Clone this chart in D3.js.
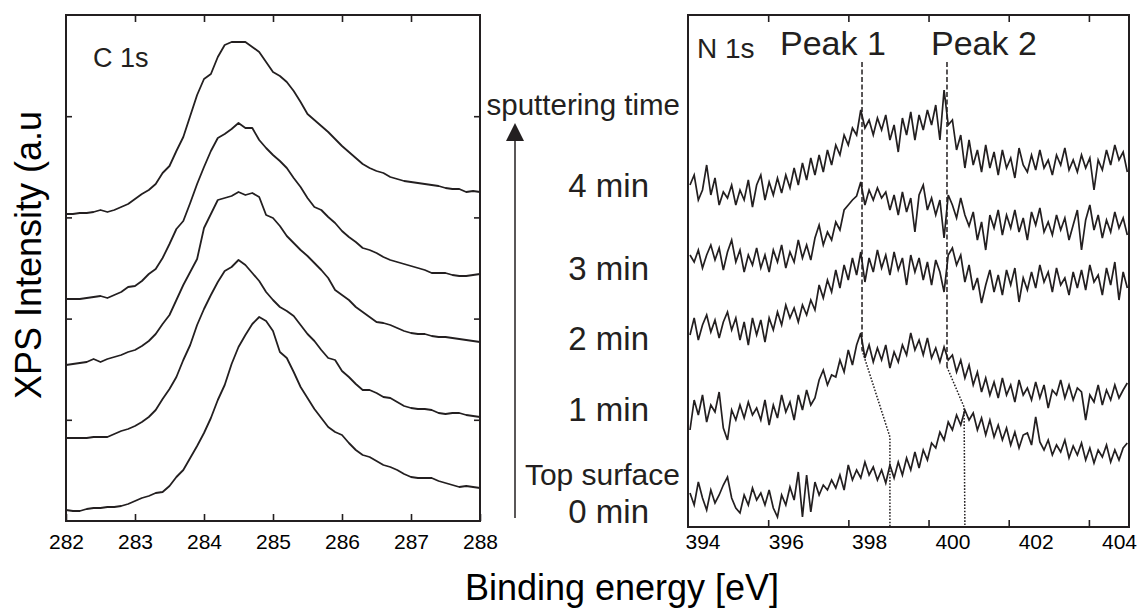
<!DOCTYPE html>
<html><head><meta charset="utf-8">
<script src="https://cdn.jsdelivr.net/npm/d3@7"></script>
<style>body{margin:0;background:#fff;} svg{display:block;font-family:"Liberation Sans",Arial,Helvetica,sans-serif;}</style>
</head><body><svg id="chart" width="1145" height="610"></svg>
<script>
// ---------- DATA ----------
const c1sTicks = [282, 283, 284, 285, 286, 287, 288];
const n1sTicks = [394, 396, 398, 400, 402, 404];
const n1sTickMarks = [396, 398, 400, 402, 404];
const sputterLabels = ["0 min", "1 min", "2 min", "3 min", "4 min"];
const c1sEnergy = d3.range(61).map(i => +(282 + i * 0.1).toFixed(1));
const n1sEnergy = d3.range(106).map(i => +(393.7 + i * 0.1).toFixed(1));

// C 1s stacked spectra (arbitrary units, offset included)
const c1s_4min = [307,307,308,308,309,311,309,311,314,317,322,327,331,337,348,355,370,384,405,426,442,447,464,476,479,479,479,474,469,459,449,445,439,430,419,407,401,395,389,382,375,369,363,357,353,350,348,344,342,340,339,338,337,336,335,333,332,332,329,330,329];
const c1s_3min = [222,222,222,223,224,225,223,226,229,234,235,240,247,252,263,277,292,300,318,337,354,370,383,387,392,398,393,393,381,373,366,360,353,343,334,323,314,311,304,298,290,284,279,273,271,268,264,261,259,257,255,253,251,248,248,248,246,245,245,246,247];
const c1s_2min = [156,157,158,159,162,159,162,164,166,169,171,175,180,187,197,206,221,236,249,262,293,307,321,323,325,329,326,328,324,306,303,295,285,278,271,265,258,251,243,231,226,221,214,209,204,199,198,196,193,190,188,187,187,185,184,184,183,182,181,180,179];
const c1s_1min = [83,83,83,83,84,84,84,87,90,92,95,99,104,111,122,132,144,161,176,196,212,226,239,250,254,261,256,248,240,229,221,214,210,205,196,187,180,171,163,161,150,144,137,131,131,128,124,123,119,115,113,112,112,111,108,107,108,108,106,105,104];
const c1s_0min = [11,10,10,12,13,13,14,14,15,17,20,23,25,28,29,35,44,51,63,75,88,103,121,136,157,174,186,197,204,200,190,169,163,149,134,123,112,103,94,89,86,78,71,66,64,60,56,54,51,47,44,43,43,43,40,38,36,34,35,34,33];

// N 1s stacked spectra (arbitrary units, offset included)
const n1s_4min = [342,352,327,337,362,332,349,322,335,329,342,322,337,327,347,320,342,352,327,345,332,349,334,352,339,359,342,364,347,369,352,372,355,377,362,382,372,392,382,399,392,417,399,407,392,409,397,412,387,402,375,409,392,415,387,412,397,417,402,422,387,437,402,407,377,392,359,387,362,377,355,382,359,375,352,377,359,369,349,379,362,355,372,357,377,359,367,352,372,362,379,357,367,355,372,359,369,337,367,357,377,362,382,367,375,355];
const n1s_3min = [272,265,277,259,272,282,267,279,257,275,287,265,277,255,272,262,279,259,272,255,277,265,282,259,275,265,287,269,282,267,289,302,282,295,287,305,297,317,322,327,331,345,322,337,327,339,329,335,317,332,312,335,315,329,295,332,342,317,329,312,327,289,332,322,309,329,312,301,315,287,305,277,312,299,317,292,312,299,317,295,309,287,315,302,319,295,305,292,312,297,309,287,302,317,277,307,322,297,312,289,307,295,315,299,309,292];
const n1s_2min = [192,209,187,202,212,195,207,189,205,215,197,209,187,205,182,209,192,207,185,209,197,215,202,222,209,219,205,222,212,227,217,242,229,247,235,257,239,262,247,269,252,275,245,269,255,277,259,272,252,275,257,269,242,272,255,269,247,265,242,267,255,235,272,279,262,272,245,262,237,249,224,242,257,235,252,232,257,242,259,225,249,237,255,239,262,245,255,235,259,242,249,232,255,239,257,237,262,245,252,232,259,242,265,227,255,239];
const n1s_1min = [97,127,112,132,105,122,115,135,99,87,117,107,122,109,125,112,119,107,127,102,122,109,132,115,125,107,132,117,137,122,129,147,157,142,152,150,167,155,177,162,182,194,169,182,165,179,167,182,159,175,165,182,172,194,177,187,172,189,169,179,165,180,167,172,155,167,149,162,142,155,135,149,132,145,129,149,132,142,125,147,132,139,127,145,129,142,119,137,132,147,129,142,127,139,135,107,132,125,142,122,137,127,142,129,137,144];
const n1s_0min = [34,22,45,29,17,37,24,32,42,50,29,19,14,32,22,39,27,34,22,37,19,10,32,22,40,27,55,10,52,15,45,32,42,37,47,39,52,37,62,47,57,49,65,52,60,47,57,44,62,49,65,52,69,57,75,59,77,67,84,79,95,87,105,97,112,102,117,107,114,97,109,92,107,90,102,87,99,82,95,79,92,94,82,110,85,77,87,72,82,75,87,69,81,72,84,67,79,64,77,70,82,65,77,67,79,84];

// Peak guide lines: [energy, intensity] vertices
const peak1Dashed = [[397.83, 465], [397.83, 177]];
const peak1Dotted = [[397.83, 177], [398.5, 90], [398.5, 0]];
const peak2Dashed = [[399.87, 465], [399.87, 160]];
const peak2Dotted = [[399.87, 160], [400.28, 120], [400.3, 0]];

// ---------- DRAW ----------
const ink = "#231f20";
const svg = d3.select("#chart");

// Left panel (C 1s)
const L = {x0: 66, x1: 480, y0: 15, y1: 521};
const xC = d3.scaleLinear().domain([282, 288]).range([L.x0, L.x1]);
const yC = d3.scaleLinear().domain([0, 506]).range([L.y1, L.y0]);
const yCticks = [1, 2, 3, 4].map(k => k * 506 / 5);

const gL = svg.append("g");
const lineC = d3.line().x((d, i) => xC(c1sEnergy[i])).y(d => yC(d));
[c1s_0min, c1s_1min, c1s_2min, c1s_3min, c1s_4min].forEach(s => {
  gL.append("path").attr("d", lineC(s)).attr("fill", "none")
    .attr("stroke", ink).attr("stroke-width", 1.8).attr("stroke-linejoin", "round");
});

function styleAxis(g, fs) {
  g.select(".domain").remove();
  g.selectAll(".tick line").attr("stroke", ink).attr("stroke-width", 1.6);
  g.selectAll(".tick text").attr("fill", "#000").attr("font-size", fs)
    .attr("font-family", '"Liberation Sans",Arial,Helvetica,sans-serif');
}
styleAxis(gL.append("g").attr("transform", `translate(0,${L.y1})`)
  .call(d3.axisBottom(xC).tickValues(c1sTicks).tickSizeInner(-7).tickSizeOuter(0).tickPadding(13.5).tickFormat(d3.format("d"))), 21);
styleAxis(gL.append("g").attr("transform", `translate(0,${L.y0})`)
  .call(d3.axisTop(xC).tickValues(c1sTicks.slice(1, -1)).tickSizeInner(-7).tickSizeOuter(0).tickFormat("")), 21);
styleAxis(gL.append("g").attr("transform", `translate(${L.x0},0)`)
  .call(d3.axisLeft(yC).tickValues(yCticks).tickSizeInner(-6).tickSizeOuter(0).tickFormat("")), 21);
styleAxis(gL.append("g").attr("transform", `translate(${L.x1},0)`)
  .call(d3.axisRight(yC).tickValues(yCticks).tickSizeInner(-6).tickSizeOuter(0).tickFormat("")), 21);
gL.append("rect").attr("x", L.x0).attr("y", L.y0).attr("width", L.x1 - L.x0).attr("height", L.y1 - L.y0)
  .attr("fill", "none").attr("stroke", ink).attr("stroke-width", 2);
gL.append("text").attr("x", 93).attr("y", 67).attr("font-size", 27).attr("fill", ink).text("C 1s");

// Right panel (N 1s)
const R = {x0: 688, x1: 1129, y0: 15, y1: 527};
const xN = d3.scaleLinear().domain([394, 404]).range([702.5, 1119]);
const xNtick = d3.scaleLinear().domain([394, 405]).range([R.x0, R.x1]);
const yN = d3.scaleLinear().domain([0, 512]).range([R.y1, R.y0]);

const gR = svg.append("g");
const lineN = d3.line().x((d, i) => xN(n1sEnergy[i])).y(d => yN(d));
[n1s_0min, n1s_1min, n1s_2min, n1s_3min, n1s_4min].forEach(s => {
  gR.append("path").attr("d", lineN(s)).attr("fill", "none")
    .attr("stroke", ink).attr("stroke-width", 1.7).attr("stroke-linejoin", "miter");
});
const guide = d3.line().x(d => xN(d[0])).y(d => yN(d[1]));
[peak1Dashed, peak2Dashed].forEach(p => gR.append("path").attr("d", guide(p)).attr("fill", "none")
  .attr("stroke", ink).attr("stroke-width", 1.5).attr("stroke-dasharray", "5,2.5"));
[peak1Dotted, peak2Dotted].forEach(p => gR.append("path").attr("d", guide(p)).attr("fill", "none")
  .attr("stroke", ink).attr("stroke-width", 1.5).attr("stroke-dasharray", "1.6,1.6"));

styleAxis(gR.append("g").attr("transform", `translate(0,${R.y1})`)
  .call(d3.axisBottom(xNtick).tickValues(n1sTickMarks).tickSizeInner(-7).tickSizeOuter(0).tickFormat("")), 21);
styleAxis(gR.append("g").attr("transform", `translate(0,${R.y0})`)
  .call(d3.axisTop(xNtick).tickValues(n1sTickMarks).tickSizeInner(-7).tickSizeOuter(0).tickFormat("")), 21);
const gRl = gR.append("g").attr("transform", `translate(0,${R.y1})`)
  .call(d3.axisBottom(xN).tickValues(n1sTicks).tickSize(0).tickPadding(7.5).tickFormat(d3.format("d")));
styleAxis(gRl, 21);
gRl.selectAll(".tick line").remove();
gR.append("rect").attr("x", R.x0).attr("y", R.y0).attr("width", R.x1 - R.x0).attr("height", R.y1 - R.y0)
  .attr("fill", "none").attr("stroke", ink).attr("stroke-width", 2);
gR.append("text").attr("x", 697).attr("y", 58).attr("font-size", 28).attr("fill", ink).text("N 1s");
gR.append("text").attr("x", 780).attr("y", 55).attr("font-size", 34).attr("fill", ink).text("Peak 1");
gR.append("text").attr("x", 931).attr("y", 55).attr("font-size", 34).attr("fill", ink).text("Peak 2");

// Middle annotations
const gM = svg.append("g").attr("fill", ink);
gM.append("line").attr("x1", 515).attr("x2", 515).attr("y1", 518).attr("y2", 135)
  .attr("stroke", ink).attr("stroke-width", 1.5);
gM.append("path").attr("d", "M515,123 L506,141 L524,141 Z").attr("fill", ink);
gM.append("text").attr("x", 680).attr("y", 115).attr("text-anchor", "end").attr("font-size", 29.5).text("sputtering time");
const labelBase = {"4 min": 197, "3 min": 280, "2 min": 350, "1 min": 421, "0 min": 523};
sputterLabels.forEach(t => gM.append("text").attr("x", 649).attr("y", labelBase[t])
  .attr("text-anchor", "end").attr("font-size", 33).text(t));
gM.append("text").attr("x", 680).attr("y", 485).attr("text-anchor", "end").attr("font-size", 30).text("Top surface");

// Axis titles
svg.append("text").attr("transform", "translate(41,255) rotate(-90)").attr("text-anchor", "middle")
  .attr("font-size", 36).attr("fill", "#000").text("XPS Intensity (a.u");
svg.append("text").attr("x", 622).attr("y", 600).attr("text-anchor", "middle")
  .attr("font-size", 36).attr("fill", "#000").text("Binding energy [eV]");
</script></body></html>
